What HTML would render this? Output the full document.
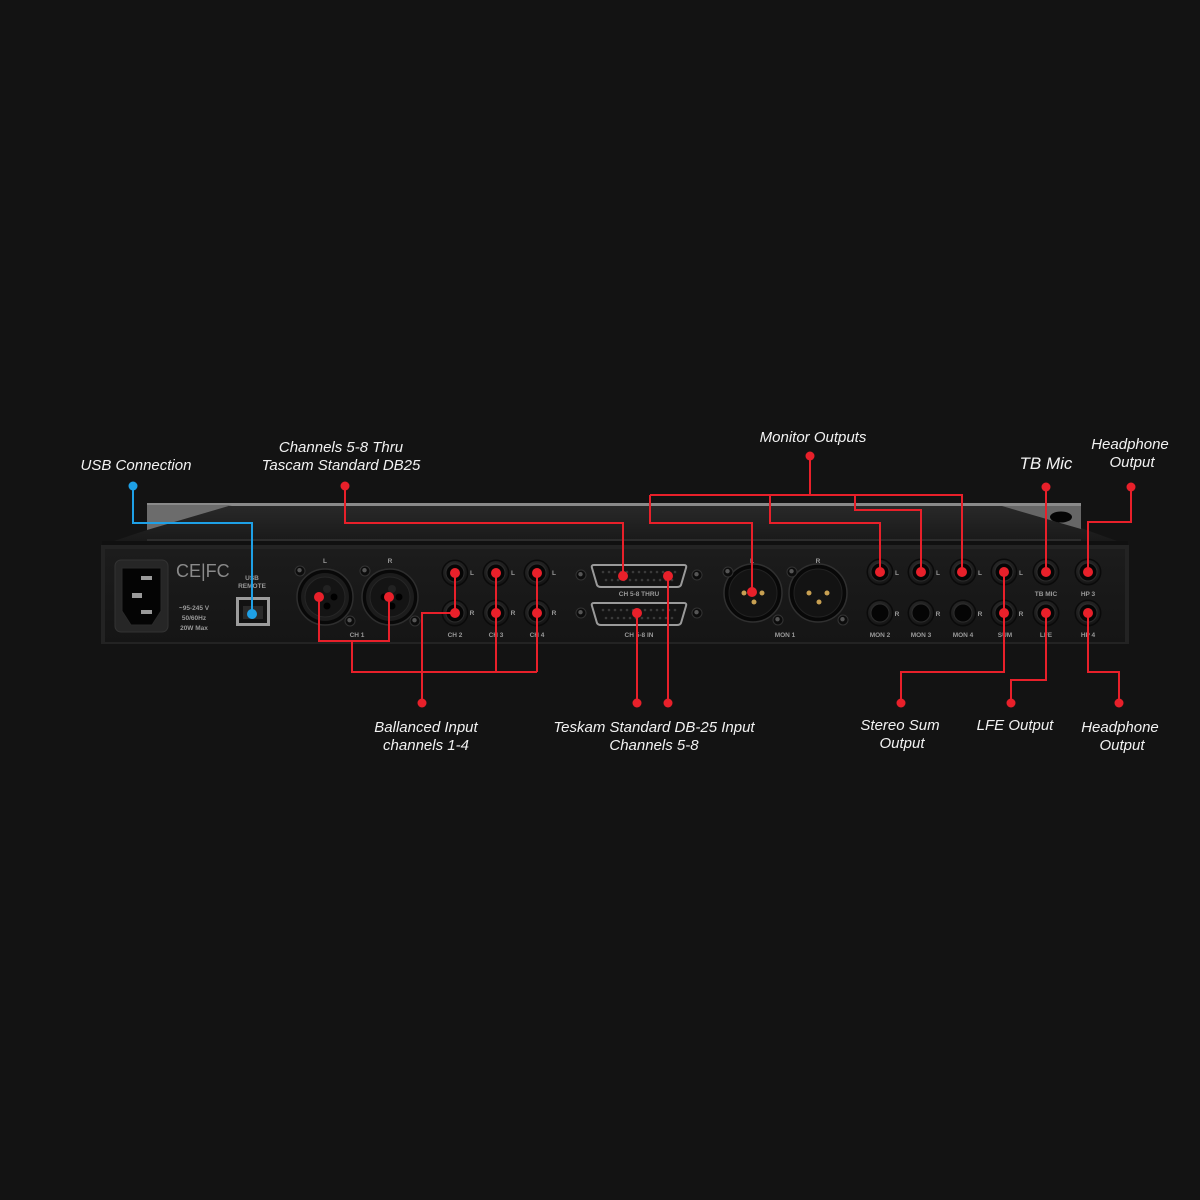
<!DOCTYPE html>
<html><head><meta charset="utf-8"><style>
html,body{margin:0;padding:0;background:#131313;}
svg{display:block;}
.lbl{font-family:"Liberation Sans",sans-serif;font-style:italic;font-size:15px;fill:#f2f2f2;text-anchor:middle;}
.pt{font-family:"Liberation Sans",sans-serif;font-weight:bold;font-size:6.5px;fill:#9a9a9a;text-anchor:middle;}
</style></head><body>
<svg width="1200" height="1200" viewBox="0 0 1200 1200" xmlns="http://www.w3.org/2000/svg">
<defs>
<linearGradient id="top" x1="0" y1="0" x2="0" y2="1">
<stop offset="0" stop-color="#2a2a2a"/><stop offset="0.6" stop-color="#1f1f1f"/><stop offset="1" stop-color="#181818"/>
</linearGradient>
<linearGradient id="panel" x1="0" y1="0" x2="0" y2="1">
<stop offset="0" stop-color="#1c1c1c"/><stop offset="1" stop-color="#151515"/>
</linearGradient>
<radialGradient id="jk" cx="0.45" cy="0.4" r="0.6">
<stop offset="0" stop-color="#3a3a3a"/><stop offset="1" stop-color="#141414"/>
</radialGradient>
<g id="jack">
<circle r="13.5" fill="#0a0a0a"/>
<circle r="12" fill="url(#jk)"/>
<circle r="9" fill="#050505" stroke="#2c2c2c" stroke-width="1"/>
</g>
<g id="screw">
<circle r="5" fill="#0c0c0c" stroke="#333" stroke-width="1"/>
<circle r="2.2" cx="-0.5" cy="-0.8" fill="#555"/>
</g>
<g id="db">
<path d="M-45,-11 L45,-11 Q48,-11 47,-8 L42,9 Q41,11 38,11 L-38,11 Q-41,11 -42,9 L-47,-8 Q-48,-11 -45,-11 Z" fill="#141414" stroke="#9a9a9a" stroke-width="2"/>
<g fill="#3a3a3a">
<circle cx="-36" cy="-4" r="1.3"/><circle cx="-30" cy="-4" r="1.3"/><circle cx="-24" cy="-4" r="1.3"/><circle cx="-18" cy="-4" r="1.3"/><circle cx="-12" cy="-4" r="1.3"/><circle cx="-6" cy="-4" r="1.3"/><circle cx="0" cy="-4" r="1.3"/><circle cx="6" cy="-4" r="1.3"/><circle cx="12" cy="-4" r="1.3"/><circle cx="18" cy="-4" r="1.3"/><circle cx="24" cy="-4" r="1.3"/><circle cx="30" cy="-4" r="1.3"/><circle cx="36" cy="-4" r="1.3"/>
<circle cx="-33" cy="4" r="1.3"/><circle cx="-27" cy="4" r="1.3"/><circle cx="-21" cy="4" r="1.3"/><circle cx="-15" cy="4" r="1.3"/><circle cx="-9" cy="4" r="1.3"/><circle cx="-3" cy="4" r="1.3"/><circle cx="3" cy="4" r="1.3"/><circle cx="9" cy="4" r="1.3"/><circle cx="15" cy="4" r="1.3"/><circle cx="21" cy="4" r="1.3"/><circle cx="27" cy="4" r="1.3"/><circle cx="33" cy="4" r="1.3"/>
</g>
</g>
<g id="xlrf">
<circle r="28" fill="#080808" stroke="#2e2e2e" stroke-width="1.5"/>
<circle r="24" fill="#1c1c1c"/>
<circle r="20" fill="#141414" stroke="#262626" stroke-width="1"/>
<circle cx="-6" cy="0" r="3.5" fill="#000"/><circle cx="9" cy="0" r="3.5" fill="#000"/><circle cx="2" cy="9" r="3.5" fill="#000"/>
<circle cx="2" cy="-8" r="4" fill="#222"/>
</g>
<g id="xlrm">
<circle r="29" fill="#080808" stroke="#303030" stroke-width="1.5"/>
<circle r="24" fill="#131313" stroke="#222" stroke-width="1"/>
<circle cx="-9" cy="0" r="2.5" fill="#c8a052"/><circle cx="9" cy="0" r="2.5" fill="#c8a052"/><circle cx="1" cy="9" r="2.5" fill="#c8a052"/>
</g>
</defs>

<rect width="1200" height="1200" fill="#131313"/>

<!-- chassis top -->
<polygon points="147,503 1081,503 1081,528 1128,545 102,545 147,530" fill="url(#top)"/>
<rect x="147" y="503" width="934" height="3" fill="#8a8a8a"/>
<polygon points="147,505 232,505 147,530" fill="#6c6c6c"/>
<polygon points="1002,506 1081,506 1081,529" fill="#666"/>
<ellipse cx="1061" cy="517" rx="11" ry="5.5" fill="#050505"/>
<rect x="147" y="539" width="934" height="2" fill="#2c2c2c"/>
<rect x="102" y="541" width="1026" height="4" fill="#101010"/>
<!-- front panel -->
<rect x="101" y="545" width="1028" height="99" fill="#232323"/>
<rect x="105" y="549" width="1020" height="93" fill="url(#panel)"/>

<!-- IEC -->
<rect x="115" y="560" width="53" height="72" rx="6" fill="#262626" stroke="#333" stroke-width="1"/>
<polygon points="122,568 161,568 161,611 152,625 131,625 122,611" fill="#040404" stroke="#2a2a2a" stroke-width="1"/>
<rect x="141" y="576" width="11" height="4" fill="#9a9a9a"/>
<rect x="132" y="593" width="10" height="5" fill="#9a9a9a"/>
<rect x="141" y="610" width="11" height="4" fill="#9a9a9a"/>
<text x="176" y="577" font-family="Liberation Sans,sans-serif" font-size="18" fill="#8a8a8a">CE|FC</text>
<text class="pt" x="194" y="610" font-size="7">~95-245 V</text>
<text class="pt" x="194" y="620" font-size="7">50/60Hz</text>
<text class="pt" x="194" y="630" font-size="7">20W Max</text>

<!-- USB -->
<text class="pt" x="252" y="580" font-size="6">USB</text>
<text class="pt" x="252" y="588" font-size="6">REMOTE</text>
<rect x="236" y="597" width="34" height="29" fill="#9c9c9c"/>
<rect x="239" y="600" width="28" height="23" fill="#121212"/>
<rect x="243" y="606" width="20" height="13" fill="#2a2a2a"/>

<!-- CH1 XLR -->
<text class="pt" x="325" y="563">L</text>
<text class="pt" x="390" y="563">R</text>
<use href="#xlrf" x="325" y="597"/>
<use href="#xlrf" x="390" y="597"/>
<use href="#screw" x="300" y="571"/><use href="#screw" x="350" y="621"/>
<use href="#screw" x="365" y="571"/><use href="#screw" x="415" y="621"/>
<text class="pt" x="357" y="637">CH 1</text>

<!-- CH2-4 jacks -->
<use href="#jack" x="455" y="573"/><use href="#jack" x="455" y="613"/>
<use href="#jack" x="496" y="573"/><use href="#jack" x="496" y="613"/>
<use href="#jack" x="537" y="573"/><use href="#jack" x="537" y="613"/>
<text class="pt" x="472" y="575">L</text><text class="pt" x="472" y="615">R</text>
<text class="pt" x="513" y="575">L</text><text class="pt" x="513" y="615">R</text>
<text class="pt" x="554" y="575">L</text><text class="pt" x="554" y="615">R</text>
<text class="pt" x="455" y="637">CH 2</text>
<text class="pt" x="496" y="637">CH 3</text>
<text class="pt" x="537" y="637">CH 4</text>

<!-- DB25 -->
<use href="#screw" x="581" y="575"/><use href="#screw" x="697" y="575"/>
<use href="#screw" x="581" y="613"/><use href="#screw" x="697" y="613"/>
<use href="#db" x="639" y="576"/>
<use href="#db" x="639" y="614"/>
<text class="pt" x="639" y="596">CH 5-8 THRU</text>
<text class="pt" x="639" y="637">CH 5-8 IN</text>

<!-- MON1 XLR -->
<text class="pt" x="752" y="563">L</text>
<text class="pt" x="818" y="563">R</text>
<use href="#xlrm" x="753" y="593"/>
<use href="#xlrm" x="818" y="593"/>
<use href="#screw" x="728" y="572"/><use href="#screw" x="778" y="620"/>
<use href="#screw" x="792" y="572"/><use href="#screw" x="843" y="620"/>
<text class="pt" x="785" y="637">MON 1</text>

<!-- right jacks -->
<use href="#jack" x="880" y="572"/><use href="#jack" x="880" y="613"/>
<use href="#jack" x="921" y="572"/><use href="#jack" x="921" y="613"/>
<use href="#jack" x="963" y="572"/><use href="#jack" x="963" y="613"/>
<use href="#jack" x="1004" y="572"/><use href="#jack" x="1004" y="613"/>
<use href="#jack" x="1046" y="572"/><use href="#jack" x="1046" y="613"/>
<use href="#jack" x="1088" y="572"/><use href="#jack" x="1088" y="613"/>
<text class="pt" x="897" y="575">L</text><text class="pt" x="897" y="616">R</text>
<text class="pt" x="938" y="575">L</text><text class="pt" x="938" y="616">R</text>
<text class="pt" x="980" y="575">L</text><text class="pt" x="980" y="616">R</text>
<text class="pt" x="1021" y="575">L</text><text class="pt" x="1021" y="616">R</text>
<text class="pt" x="1046" y="596">TB MIC</text>
<text class="pt" x="1088" y="596">HP 3</text>
<text class="pt" x="880" y="637">MON 2</text>
<text class="pt" x="921" y="637">MON 3</text>
<text class="pt" x="963" y="637">MON 4</text>
<text class="pt" x="1005" y="637">SUM</text>
<text class="pt" x="1046" y="637">LFE</text>
<text class="pt" x="1088" y="637">HP 4</text>

<!-- connectors -->
<g fill="none" stroke="#1ea0e6" stroke-width="2">
<path d="M133,486 V523 H252 V614"/>
</g>
<g fill="#1ea0e6"><circle cx="133" cy="486" r="4.5"/><circle cx="252" cy="614" r="5"/></g>

<g fill="none" stroke="#e8202a" stroke-width="2">
<path d="M345,486 V523 H623 V576"/>
<path d="M668,576 V703"/>
<path d="M637,613 V703"/>
<path d="M319,597 V641 H389 V597"/>
<path d="M352,641 V672 H537"/>
<path d="M455,573 V613 H422 V703"/>
<path d="M496,573 V672"/>
<path d="M537,573 V672"/>
<path d="M810,456 V495"/>
<path d="M650,495 H962 V572"/>
<path d="M650,495 V523 H752 V592"/>
<path d="M770,495 V523 H880 V572"/>
<path d="M855,495 V510 H921 V572"/>
<path d="M1046,487 V572"/>
<path d="M1131,487 V522 H1088 V572"/>
<path d="M1004,572 V672 H901 V703"/>
<path d="M1046,613 V680 H1011 V703"/>
<path d="M1088,613 V672 H1119 V703"/>
</g>
<g fill="#e8202a">
<circle cx="345" cy="486" r="4.5"/><circle cx="623" cy="576" r="5"/><circle cx="668" cy="576" r="5"/>
<circle cx="637" cy="613" r="5"/><circle cx="668" cy="703" r="4.5"/><circle cx="637" cy="703" r="4.5"/>
<circle cx="319" cy="597" r="5"/><circle cx="389" cy="597" r="5"/>
<circle cx="455" cy="573" r="5"/><circle cx="455" cy="613" r="5"/>
<circle cx="496" cy="573" r="5"/><circle cx="496" cy="613" r="5"/>
<circle cx="537" cy="573" r="5"/><circle cx="537" cy="613" r="5"/>
<circle cx="422" cy="703" r="4.5"/>
<circle cx="810" cy="456" r="4.5"/><circle cx="752" cy="592" r="5"/>
<circle cx="880" cy="572" r="5"/><circle cx="921" cy="572" r="5"/><circle cx="962" cy="572" r="5"/>
<circle cx="1046" cy="487" r="4.5"/><circle cx="1046" cy="572" r="5"/>
<circle cx="1131" cy="487" r="4.5"/><circle cx="1088" cy="572" r="5"/>
<circle cx="1004" cy="572" r="5"/><circle cx="1004" cy="613" r="5"/>
<circle cx="1046" cy="613" r="5"/><circle cx="1088" cy="613" r="5"/>
<circle cx="901" cy="703" r="4.5"/><circle cx="1011" cy="703" r="4.5"/><circle cx="1119" cy="703" r="4.5"/>
</g>

<!-- labels -->
<text class="lbl" x="136" y="470">USB Connection</text>
<text class="lbl" x="341" y="452">Channels 5-8 Thru</text>
<text class="lbl" x="341" y="470">Tascam Standard DB25</text>
<text class="lbl" x="813" y="442">Monitor Outputs</text>
<text class="lbl" x="1046" y="469" font-size="17" style="font-size:17px">TB Mic</text>
<text class="lbl" x="1130" y="449">Headphone</text>
<text class="lbl" x="1132" y="467">Output</text>
<text class="lbl" x="426" y="732">Ballanced Input</text>
<text class="lbl" x="426" y="750">channels 1-4</text>
<text class="lbl" x="654" y="732">Teskam Standard DB-25 Input</text>
<text class="lbl" x="654" y="750">Channels 5-8</text>
<text class="lbl" x="900" y="730">Stereo Sum</text>
<text class="lbl" x="902" y="748">Output</text>
<text class="lbl" x="1015" y="730">LFE Output</text>
<text class="lbl" x="1120" y="732">Headphone</text>
<text class="lbl" x="1122" y="750">Output</text>
</svg>
</body></html>
